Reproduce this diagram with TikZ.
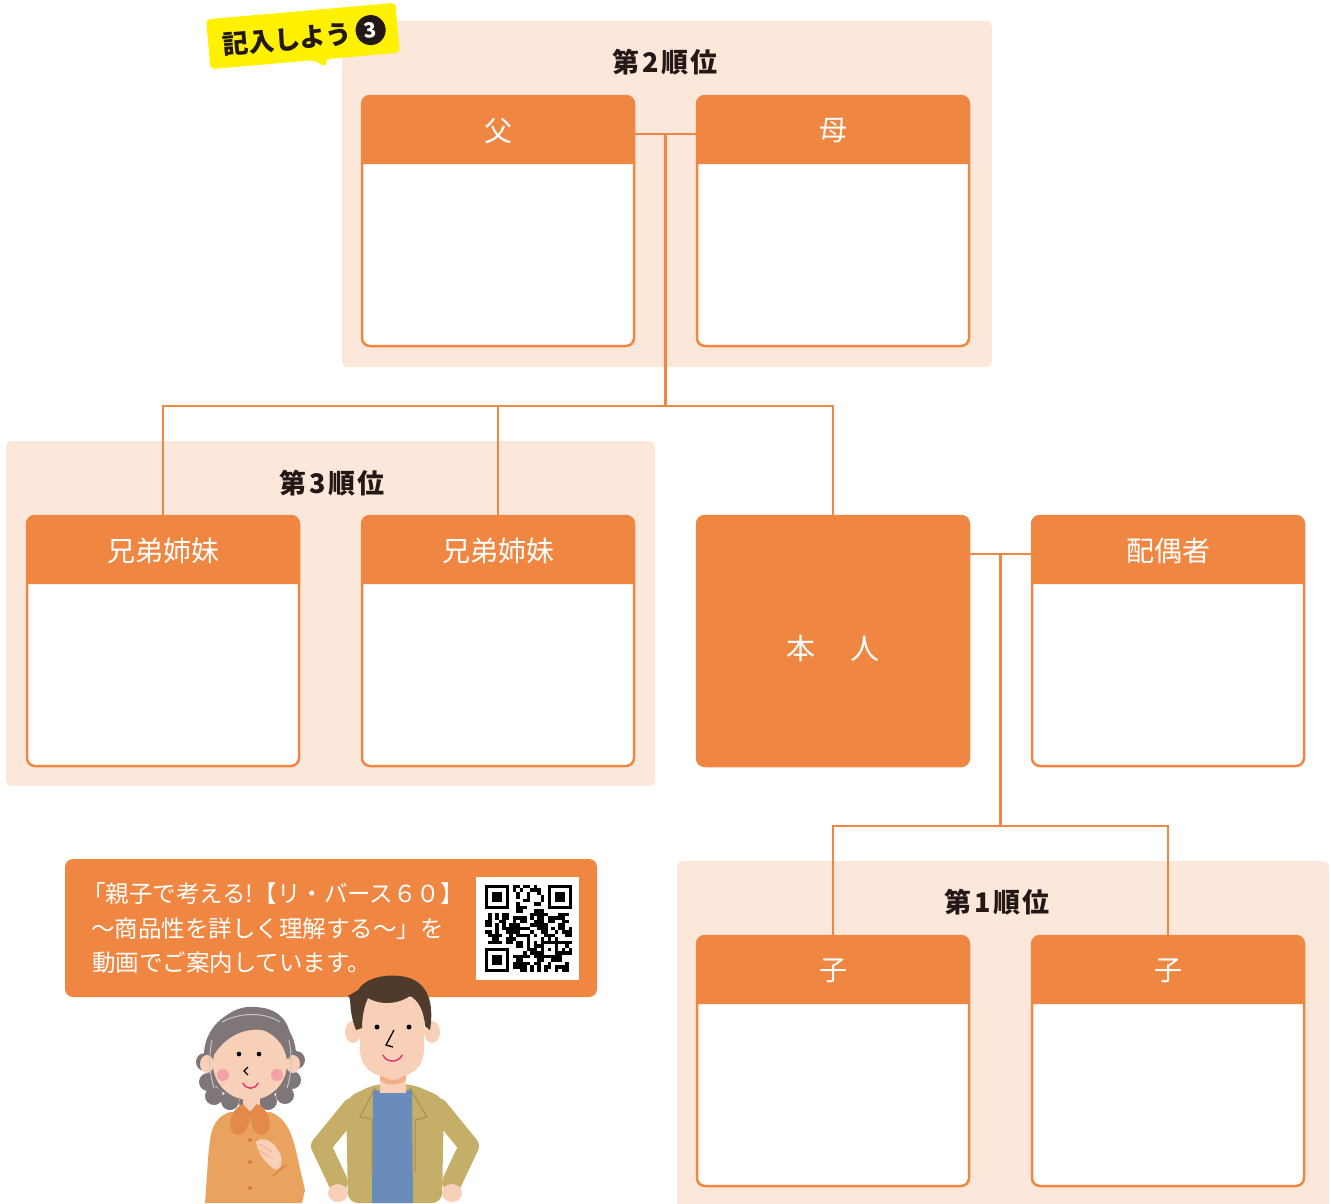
\documentclass[tikz,border=0pt]{standalone}
\usepackage{fontspec}
\setmainfont{Noto Sans CJK JP}
\usetikzlibrary{calc}
\definecolor{famorange}{HTML}{EF8742}
\definecolor{panelbg}{HTML}{FCE8DA}
\definecolor{titleink}{HTML}{231815}
\definecolor{tagyellow}{HTML}{FFF100}
\definecolor{skin}{HTML}{F8D0B7}
\definecolor{skinshade}{HTML}{F2AE88}
\definecolor{hairgray}{HTML}{7E7677}
\definecolor{hairlight}{HTML}{C9C4C4}
\definecolor{hairbrown}{HTML}{4E3B2B}
\definecolor{blouse}{HTML}{E9A35E}
\definecolor{collar}{HTML}{E3894A}
\definecolor{button}{HTML}{D97A3C}
\definecolor{khaki}{HTML}{C5AE67}
\definecolor{khakidark}{HTML}{A38F55}
\definecolor{shirtblue}{HTML}{6A8CBB}
\definecolor{cheek}{HTML}{F2A2A8}
\definecolor{smile}{HTML}{E4326A}

% one family-tree box: name, centre x, centre y, header text
\newcommand\kinbox[4]{%
  \node[boxbody] (#1) at (#2,#3) {};
  \fill[famorange] ([yshift=-68pt]#1.north west) [rounded corners=8pt] -- (#1.north west)
     -- (#1.north east) [sharp corners] -- ([yshift=-68pt]#1.north east) -- cycle;
  \node[boxlabel] (#1-label) at ([yshift=-35pt]#1.north) {#4};
}
% rank heading with loose tracking
\newcommand\rankname[1]{第\kern3pt#1\kern3pt 順\kern2pt 位}

\begin{document}
\begin{tikzpicture}[x=1pt,y=-1pt,
  panel/.style={fill=panelbg, rounded corners=6pt},
  boxbody/.style={draw=famorange, fill=white, line width=2.5pt, rounded corners=8pt,
    minimum width=272pt, minimum height=250pt, inner sep=0pt, outer sep=0pt},
  boxlabel/.style={text=white, font=\fontsize{28}{28}\selectfont, inner sep=0pt},
  paneltitle/.style={text=titleink, font=\bfseries\fontsize{27}{27}\selectfont, inner sep=0pt},
  conn/.style={draw=famorange, line width=2.5pt},
  infotext/.style={text=white, font=\fontsize{23.5}{23.5}\selectfont, inner sep=0pt, anchor=base west},
]
\useasboundingbox (0,0) rectangle (1331,1203);

% ---- background panels for each rank ----
\fill[panel] (342,21) rectangle (992,367);
\fill[panel] (6,441) rectangle (655,786);
\fill[panel] (677,861) rectangle (1329,1220);

\node[paneltitle] (t2) at (665,62) {\rankname{2}};
\node[paneltitle] (t3) at (332,483) {\rankname{3}};
\node[paneltitle] (t1) at (997,902) {\rankname{1}};

% ---- boxes ----
\kinbox{fa}{498}{221}{父}
\kinbox{mo}{833}{221}{母}
\kinbox{sib1}{163}{641}{兄弟姉妹}
\kinbox{sib2}{498}{641}{兄弟姉妹}
\kinbox{sp}{1168}{641}{配偶者}
\kinbox{ch1}{833}{1061}{子}
\kinbox{ch2}{1168}{1061}{子}
\node[boxbody, fill=famorange] (me) at (833,641) {};
\node[boxlabel, font=\fontsize{29}{29}\selectfont] (me-label) at ([yshift=-7pt]me.center) {本　\kern6pt人};

% ---- connectors ----
\coordinate (j2) at (665.5,134);
\coordinate (j3) at (665.5,406);
\coordinate (j4) at (1000.5,554);
\coordinate (j5) at (1000.5,826);
\draw[conn] (fa.east |- j2) -- (mo.west |- j2);
\draw[conn] (j2) -- (j3);
\draw[conn] (sib1.north) |- (me.north |- j3) -- (me.north);
\draw[conn] (sib2.north) -- (sib2.north |- j3);
\draw[conn] (me.east |- j4) -- (sp.west |- j4);
\draw[conn] (j4) -- (j5);
\draw[conn] (ch1.north) |- (ch2.north |- j5) -- (ch2.north);

% ---- yellow speech tag ----
\begin{scope}[shift={(303,37)}, rotate=5]
  \fill[tagyellow, rounded corners=4pt] (-95,-26) -- (95,-26) -- (95,24) -- (21,24)
     -- (20,32) -- (9,24) -- (-95,24) -- cycle;
  \node[text=titleink, font=\bfseries\fontsize{26}{26}\selectfont, inner sep=0pt, transform shape]
     (tag) at (-16,1) {記入しよう};
  \fill[titleink] (68,-1) circle (15);
  \node[text=white, font=\bfseries\fontsize{21}{21}\selectfont, inner sep=0pt, transform shape]
     (tagnum) at (68,-1) {3};
\end{scope}

% ---- video notice ----
\node[fill=famorange, rounded corners=8pt, minimum width=532pt, minimum height=138pt,
  inner sep=0pt] (info) at (331,928) {};
\node[infotext] (l1) at (82,902) {「親子で考える!【リ・バース６０】};
\node[infotext] (l2) at (91,937) {～商品性を詳しく理解する～」を};
\node[infotext] (l3) at (92,971) {動画でご案内しています。};

% QR code
\fill[white] (476,877) rectangle (579,980);
\pgfmathsetseed{31}
\foreach \i in {0,...,24}{
  \foreach \j in {0,...,24}{
    \pgfmathrandominteger{\qr}{0}{1}
    \ifnum\qr=1 \fill[black] ({484.5+\i*3.5},{884.5+\j*3.5}) rectangle ++(3.6,3.6);\fi
  }
}
\foreach \a/\b in {0/0,18/0,0/18}{
  \fill[white] ({481+\a*3.5},{881+\b*3.5}) rectangle ++(31.5,31.5);
  \fill[black] ({484.5+\a*3.5},{884.5+\b*3.5}) rectangle ++(24.5,24.5);
  \fill[white] ({488+\a*3.5},{888+\b*3.5}) rectangle ++(17.5,17.5);
  \fill[black] ({491.5+\a*3.5},{891.5+\b*3.5}) rectangle ++(10.5,10.5);
}
\fill[black] ({484.5+16*3.5},{884.5+16*3.5}) rectangle ++(17.5,17.5);
\fill[white] ({484.5+17*3.5},{884.5+17*3.5}) rectangle ++(10.5,10.5);
\fill[black] ({484.5+18*3.5},{884.5+18*3.5}) rectangle ++(3.5,3.5);

% ---- older woman ----
\fill[hairgray] (250,1055) ellipse [x radius=46, y radius=46];
\foreach \cx/\cy in {208/1082,214/1096,230/1101,248/1103,268/1101,285/1095,292/1080,205/1062,296/1060}
  \fill[hairgray] (\cx,\cy) circle (9);
\fill[skin] (207,1064) ellipse [x radius=7, y radius=9];
\fill[skin] (293,1064) ellipse [x radius=7, y radius=9];
\fill[blouse] (205,1203) -- (208,1160) .. controls (210,1130) and (213,1118) .. (230,1112)
  -- (270,1112) .. controls (287,1118) and (293,1135) .. (298,1160) -- (305,1190) -- (302,1203) -- cycle;
\fill[skin] (243,1095) rectangle (260,1113);
\fill[collar] (243,1104) .. controls (228,1110) and (226,1134) .. (238,1135) .. controls (247,1135) and (250,1122) .. (250,1112) -- cycle;
\fill[collar] (257,1104) .. controls (272,1110) and (274,1134) .. (262,1135) .. controls (253,1135) and (250,1122) .. (250,1112) -- cycle;
\fill[skin] (250,1064) ellipse [x radius=37, y radius=36];
\fill[hairgray] (212,1058) .. controls (208,1015) and (240,1005) .. (255,1007)
  .. controls (285,1008) and (296,1030) .. (289,1060) .. controls (284,1040) and (275,1030) .. (262,1030)
  .. controls (245,1028) and (225,1035) .. (212,1058) -- cycle;
\draw[hairlight, line width=1pt] (222,1022) .. controls (240,1012) and (265,1012) .. (280,1022);
\draw[hairlight, line width=1pt] (212,1040) .. controls (208,1060) and (210,1075) .. (214,1088);
\draw[hairlight, line width=1pt] (289,1040) .. controls (293,1060) and (291,1075) .. (287,1088);
\fill[black] (239,1054) circle (2.3);
\fill[black] (259,1054) circle (2.3);
\draw[black, line width=1.2pt] (248,1067) -- (244,1071) -- (248,1075);
\fill[cheek] (223,1075) circle (6);
\fill[cheek] (277,1075) circle (6);
\draw[smile, line width=1.4pt, line cap=round] (243,1083) .. controls (246,1090) and (255,1090) .. (258,1083);
\fill[button] (250,1140) circle (2);
\fill[button] (250,1162) circle (2);
\fill[button] (250,1188) circle (2);
% hand resting on the chest
\fill[skin] (256,1142) .. controls (262,1136) and (272,1140) .. (278,1150)
  .. controls (284,1158) and (282,1168) .. (276,1170) .. controls (268,1166) and (258,1155) .. (256,1142) -- cycle;
\draw[skinshade, line width=0.8pt] (260,1144) -- (272,1152) (259,1150) -- (270,1157);
\draw[button, line width=1pt] (273,1176) -- (286,1165);

% ---- younger man ----
\draw[khaki, line width=20pt, line cap=round, line join=round] (352,1108) -- (321,1146) -- (338,1182);
\draw[khaki, line width=20pt, line cap=round, line join=round] (438,1108) -- (469,1146) -- (452,1182);
\fill[skin] (338,1193) ellipse [x radius=10, y radius=9];
\fill[skin] (452,1193) ellipse [x radius=10, y radius=9];
\fill[khaki, rounded corners=10pt] (348,1203) -- (346,1098) -- (375,1084) -- (412,1084) -- (444,1098) -- (442,1203) -- cycle;
\fill[shirtblue] (373,1089) .. controls (385,1094) and (400,1094) .. (412,1089) -- (413,1203) -- (372,1203) -- cycle;
\draw[khakidark, line width=1pt] (375,1088) -- (360,1117) -- (372,1119) -- (372,1172);
\draw[khakidark, line width=1pt] (410,1088) -- (427,1117) -- (415,1120) -- (415,1172);
\fill[skin] (380,1068) rectangle (406,1093);
\fill[skinshade] (380,1074) .. controls (390,1082) and (398,1082) .. (406,1074) -- (406,1080) .. controls (398,1086) and (388,1086) .. (380,1080) -- cycle;
\fill[skin] (353,1032) ellipse [x radius=8, y radius=11];
\fill[skin] (432,1032) ellipse [x radius=8, y radius=11];
\fill[skin] (360,998) -- (360,1048) .. controls (360,1070) and (375,1077) .. (392,1077)
  .. controls (410,1077) and (424,1070) .. (424,1048) -- (424,998) -- cycle;
\fill[hairbrown] (356,1030) .. controls (348,1010) and (352,998) .. (348,996) -- (358,990)
  .. controls (365,978) and (385,974) .. (400,976) .. controls (420,978) and (436,992) .. (430,1030)
  -- (425,1026) .. controls (424,1010) and (418,1000) .. (410,996) .. controls (395,1006) and (378,1004) .. (368,998)
  .. controls (364,1006) and (362,1018) .. (362,1028) -- cycle;
\fill[black] (377,1027) circle (2.5);
\fill[black] (409,1027) circle (2.5);
\draw[black, line width=1.3pt] (394,1030) -- (386,1045) -- (393,1047);
\draw[smile, line width=1.4pt, line cap=round] (383,1055) .. controls (386,1063) and (399,1063) .. (402,1055);
\end{tikzpicture}
\end{document}
